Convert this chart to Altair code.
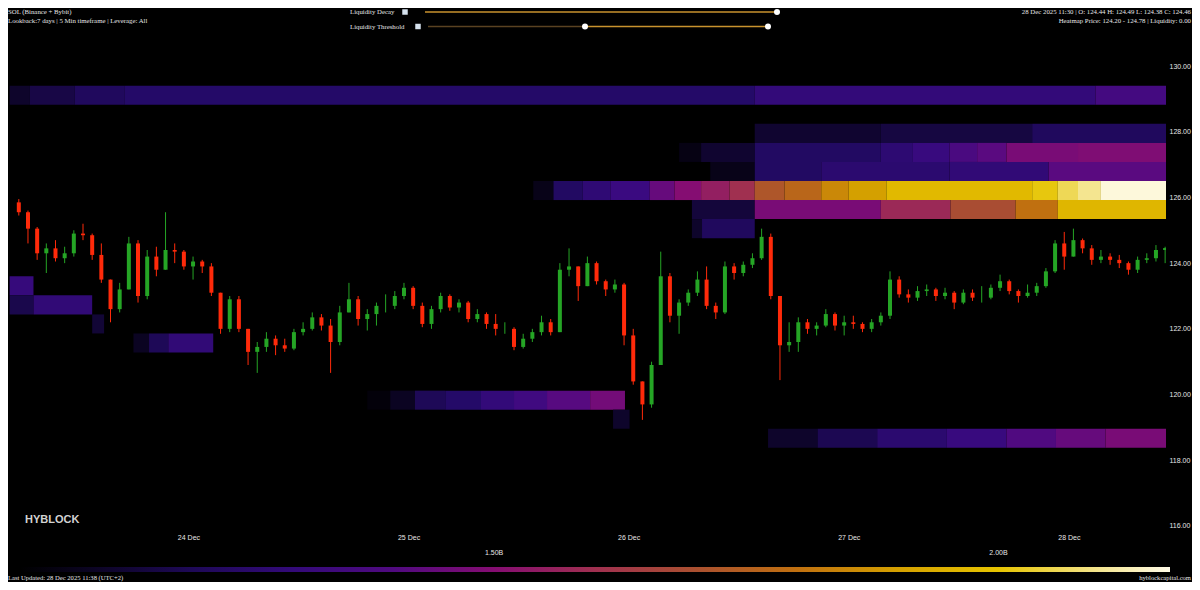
import altair as alt
import pandas as pd

# ---------------- data ----------------
# hourly candles, hours counted from 23 Dec 2025 00:00
candle_hours = list(range(5, 131))
first_open = 125.85
closes = [125.55, 125.05, 124.3, 124.45, 124.15, 124.3, 124.9, 124.85, 124.25, 123.5,
          122.6, 123.2, 124.6, 123.0, 124.2, 123.8, 124.4, 124.35, 123.9, 124.05,
          123.9, 123.1, 122.0, 122.9, 122.0, 121.3, 121.45, 121.7, 121.5, 121.4,
          121.9, 122.0, 122.35, 122.1, 121.6, 122.5, 122.9, 122.3, 122.45, 122.7,
          122.7, 123.0, 123.25, 122.7, 122.15, 122.6, 123.0, 122.65, 122.8, 122.3,
          122.45, 122.15, 122.0, 122.0, 121.45, 121.7, 121.9, 122.2, 121.9, 123.8,
          123.9, 123.3, 124.0, 123.45, 123.2, 123.35, 121.8, 120.4, 119.7, 120.9,
          123.6, 122.4, 122.8, 123.1, 123.5, 122.7, 122.5, 123.9, 123.7, 123.95,
          124.15, 124.8, 123.0, 121.5, 121.6, 122.2, 122.0, 122.1, 122.45, 122.1,
          122.2, 122.15, 122.0, 122.2, 122.4, 123.5, 123.05, 122.95, 123.15, 123.2,
          123.0, 123.1, 122.8, 123.1, 122.95, 122.95, 123.25, 123.45, 123.15, 123.0,
          123.1, 123.3, 123.75, 124.6, 124.2, 124.7, 124.45, 124.1, 124.2, 124.1,
          124.0, 123.8, 124.1, 124.15, 124.4, 124.46]
highs = [125.95, 125.6, 125.1, 124.6, 124.7, 124.5, 125.0, 125.2, 124.9, 124.6,
         123.5, 123.4, 124.8, 124.7, 124.4, 124.5, 125.55, 124.6, 124.4, 124.2,
         124.1, 124.0, 123.1, 123.0, 123.0, 122.0, 121.6, 121.9, 121.8, 121.7,
         122.0, 122.2, 122.5, 122.45, 122.3, 122.7, 123.4, 123.0, 122.6, 122.8,
         123.05, 123.15, 123.4, 123.3, 122.8, 122.7, 123.1, 123.05, 122.9, 122.85,
         122.6, 122.5, 122.45, 122.2, 122.05, 121.85, 122.0, 122.4, 122.3, 124.0,
         124.45, 123.9, 124.2, 124.05, 123.5, 123.5, 123.4, 122.0, 120.4, 121.0,
         124.35, 123.7, 122.9, 123.2, 123.75, 123.9, 122.8, 124.05, 124.0, 124.05,
         124.3, 125.05, 124.9, 123.0, 122.2, 122.35, 122.3, 122.2, 122.6, 122.5,
         122.4, 122.4, 122.2, 122.3, 122.5, 123.75, 123.6, 123.2, 123.3, 123.35,
         123.25, 123.25, 123.15, 123.2, 123.2, 123.3, 123.35, 123.65, 123.5, 123.2,
         123.35, 123.4, 123.85, 124.7, 124.95, 125.05, 124.75, 124.55, 124.4, 124.3,
         124.25, 124.05, 124.2, 124.3, 124.55, 124.5]
lows = [125.45, 124.6, 124.1, 123.7, 124.05, 124.0, 124.2, 124.7, 124.1, 123.4,
        122.2, 122.5, 123.2, 122.8, 122.9, 123.6, 123.8, 124.0, 123.8, 123.5,
        123.7, 123.0, 121.85, 121.9, 121.9, 120.9, 120.66, 121.3, 121.2, 121.3,
        121.35, 121.8, 121.95, 121.95, 120.66, 121.5, 122.5, 122.1, 121.95, 122.1,
        122.5, 122.6, 122.9, 122.6, 122.05, 122.0, 122.5, 122.55, 122.5, 122.2,
        122.2, 122.0, 121.8, 121.85, 121.35, 121.4, 121.6, 121.8, 121.8, 121.9,
        123.6, 122.85, 123.3, 123.35, 123.0, 123.1, 121.5, 120.3, 119.23, 119.6,
        120.9, 122.2, 121.85, 122.7, 123.0, 122.6, 122.3, 122.45, 123.5, 123.6,
        123.85, 124.1, 122.9, 120.44, 121.3, 121.3, 121.85, 121.8, 122.05, 121.95,
        121.8, 122.0, 121.9, 121.9, 122.1, 122.3, 122.95, 122.8, 122.85, 123.0,
        122.85, 122.9, 122.6, 122.75, 122.85, 122.8, 122.9, 123.15, 123.05, 122.8,
        122.95, 123.0, 123.25, 123.7, 123.8, 124.2, 124.3, 123.95, 124.0, 123.95,
        123.85, 123.65, 123.7, 124.0, 124.05, 124.0]

# liquidity heatmap cells (price bin low edge, start hour, end hour, liquidity in B)
bin_size = 0.58
cell_low = ([128.82] * 6 + [127.66] * 3 + [127.08] * 9 + [126.50] * 5 + [125.92] * 17 +
            [125.34] * 6 + [124.76] * 2 + [123.02] + [122.44] * 2 + [121.86] + [121.28] * 3 +
            [119.54] * 8 + [118.96] + [118.38] * 7)
cell_start = [4.5, 6.7, 11.6, 17.0, 85.75, 122.9,
              85.75, 99.5, 116.0,
              77.5, 79.9, 85.75, 99.5, 103.0, 107.0, 110.0, 113.2, 121.0,
              80.9, 85.75, 93.0, 107.0, 117.8,
              61.6, 63.8, 67.0, 70.0, 74.3, 77.0, 79.9, 83.0, 85.75, 89.0, 93.0, 96.0, 100.1, 116.0, 118.8, 121.0, 123.5,
              78.9, 85.75, 99.5, 107.1, 114.2, 118.8,
              78.9, 80.0,
              4.5,
              4.5, 7.1,
              13.5,
              18.0, 19.7, 21.8,
              43.5, 46.0, 48.7, 52.0, 55.9, 59.5, 63.1, 67.8,
              70.3,
              87.2, 92.6, 99.1, 106.7, 113.2, 118.6, 124.0]
cell_end = [6.7, 11.6, 17.0, 85.75, 122.9, 130.6,
            99.5, 116.0, 130.6,
            79.9, 85.75, 99.5, 103.0, 107.0, 110.0, 113.2, 121.0, 130.6,
            85.75, 93.0, 107.0, 117.8, 130.6,
            63.8, 67.0, 70.0, 74.3, 77.0, 79.9, 83.0, 85.75, 89.0, 93.0, 96.0, 100.1, 116.0, 118.8, 121.0, 123.5, 130.6,
            85.75, 99.5, 107.1, 114.2, 118.8, 130.6,
            80.0, 85.75,
            7.1,
            7.1, 13.5,
            14.8,
            19.7, 21.8, 26.7,
            46.0, 48.7, 52.0, 55.9, 59.5, 63.1, 67.8, 71.6,
            72.1,
            92.6, 99.1, 106.7, 113.2, 118.6, 124.0, 130.6]
cell_liq = [1.12, 1.17, 1.21, 1.23, 1.30, 1.36,
            1.13, 1.16, 1.21,
            1.07, 1.13, 1.22, 1.27, 1.32, 1.38, 1.43, 1.48, 1.49,
            1.08, 1.22, 1.26, 1.29, 1.43,
            1.08, 1.22, 1.28, 1.33, 1.45, 1.50, 1.55, 1.60, 1.72, 1.77, 1.85, 1.90, 1.97, 2.01, 2.06, 2.10, 2.16,
            1.15, 1.48, 1.58, 1.69, 1.80, 1.96,
            1.12, 1.21,
            1.31,
            1.18, 1.29,
            1.14,
            1.10, 1.20, 1.29,
            1.05, 1.10, 1.20, 1.23, 1.30, 1.35, 1.42, 1.47,
            1.12,
            1.12, 1.19, 1.26, 1.32, 1.40, 1.45, 1.48]

# colour scale of the liquidity bar (value in B -> colour)
liq_stops = [1.03, 1.13, 1.23, 1.33, 1.43, 1.50, 1.60, 1.70, 1.80, 1.90, 2.00, 2.10, 2.17]
liq_colors = ["#000000", "#100530", "#240a68", "#3a0a80", "#5a0a80", "#850d72", "#a03050",
              "#aa5030", "#c07010", "#d4a000", "#e6c400", "#f4e590", "#fffbe8"]
bar_ticks = [1.5, 2.0]
bar_tick_labels = ["1.50B", "2.00B"]

price_ticks = [116, 118, 120, 122, 124, 126, 128, 130]
day_ticks = [24, 25, 26, 27, 28]

# ---------------- frames ----------------
BASE = pd.Timestamp("2025-12-23 00:00")


def t(h):
    return BASE + pd.to_timedelta(h, unit="h")


opens = [first_open] + closes[:-1]
candles = pd.DataFrame({
    "time": [t(h + 0.5) for h in candle_hours],
    "open": opens,
    "close": closes,
    "high": [max(h, o, c) for h, o, c in zip(highs, opens, closes)],
    "low": [min(l, o, c) for l, o, c in zip(lows, opens, closes)],
})

heat = pd.DataFrame({
    "start": [t(s) for s in cell_start],
    "end": [t(e) for e in cell_end],
    "low": cell_low,
    "high": [p + bin_size for p in cell_low],
    "liq": cell_liq,
})

bar_ticks_df = pd.DataFrame({"v": bar_ticks, "label": bar_tick_labels})

W, H = 1158, 486
LEG_X, LEG_LEN = 12, 1150
SANS = "Liberation Sans"
SERIF = "Liberation Serif"
TXT = "#e6e6e6"

xscale = alt.Scale(domain=[alt.DateTime(year=2025, month=12, date=23, hours=4, minutes=52),
                           alt.DateTime(year=2025, month=12, date=28, hours=10, minutes=3)])
yscale = alt.Scale(domain=[115.878, 130.67], zero=False, nice=False)

xaxis = alt.Axis(values=[alt.DateTime(year=2025, month=12, date=d) for d in day_ticks],
                 format="%d %b", grid=False, ticks=False, domain=False, title=None,
                 labelPadding=3, labelColor=TXT, labelFontSize=7, labelFont=SANS)
yaxis = alt.Axis(orient="right", values=price_ticks, format=".2f", grid=False, ticks=False,
                 domain=False, title=None, labelPadding=3, labelColor=TXT,
                 labelFontSize=7, labelFont=SANS)

heat_layer = alt.Chart(heat).mark_rect(clip=True).encode(
    x=alt.X("start:T", scale=xscale, axis=xaxis),
    x2="end:T",
    y=alt.Y("low:Q", scale=yscale, axis=yaxis),
    y2="high:Q",
    color=alt.Color("liq:Q",
                    scale=alt.Scale(type="linear", domain=liq_stops, range=liq_colors, interpolate="rgb"),
                    legend=alt.Legend(orient="none", legendX=LEG_X, legendY=523, direction="horizontal",
                                      gradientLength=LEG_LEN, gradientThickness=5, gradientStrokeWidth=0,
                                      labelOpacity=0, labelExpr="''", title=None, padding=0)),
)

up, down = "#25a525", "#ff2a0a"
candle_color = alt.condition("datum.close >= datum.open", alt.value(up), alt.value(down))

wicks = alt.Chart(candles).mark_rule(strokeWidth=1, clip=True).encode(
    x=alt.X("time:T", scale=xscale), y=alt.Y("low:Q", scale=yscale), y2="high:Q", color=candle_color)
bodies = alt.Chart(candles).mark_bar(size=4, clip=True).encode(
    x=alt.X("time:T", scale=xscale), y=alt.Y("open:Q", scale=yscale), y2="close:Q", color=candle_color)

one = pd.DataFrame({"k": [0]})


def label(txt, x, y, align="left", size=6.8, font=SERIF, color=TXT, weight="normal"):
    return alt.Chart(one).mark_text(align=align, baseline="middle", fontSize=size, font=font,
                                    color=color, fontWeight=weight).encode(
        x=alt.value(x), y=alt.value(y), text=alt.value(txt))


def line(x1, x2, y, color, width=1.3):
    return alt.Chart(one).mark_rule(color=color, strokeWidth=width).encode(
        x=alt.value(x1), x2=alt.value(x2), y=alt.value(y))


def knob(x, y):
    return alt.Chart(one).mark_point(filled=True, color="#ffffff", size=36, opacity=1).encode(
        x=alt.value(x), y=alt.value(y))


def icon(x, y):
    return alt.Chart(one).mark_square(color="#d6e2ee", size=30, opacity=1).encode(
        x=alt.value(x), y=alt.value(y))


L1, L2, L3 = -32, -23, -17.5
annotations = [
    label("SOL (Binance + Bybit)", 0, L1),
    label("Lookback:7 days | 5 Min timeframe | Leverage: All", 0, L2),
    label("Liquidity Decay", 342, L1),
    icon(397, L1),
    line(417, 769, L1, "#c8922e"),
    knob(769, L1),
    label("Liquidity Threshold", 342, L3),
    icon(410, L3),
    line(420, 577, L3, "#5a4221"),
    line(577, 760, L3, "#c8922e"),
    knob(577, L3),
    knob(760, L3),
    label("28 Dec 2025 11:30 | O: 124.44 H: 124.49 L: 124.38 C: 124.46", 1183, L1, align="right"),
    label("Heatmap Price: 124.20 - 124.78 | Liquidity: 0.00", 1183, L2, align="right"),
    label("HYBLOCK", 17, 476, size=11, font=SANS, color="#d2d2d2", weight="bold"),
    label("Last Updated: 28 Dec 2025 11:38 (UTC+2)", 0, 534, size=6.6),
    label("hyblockcapital.com", 1183, 534, align="right", size=6.6),
]

main = alt.layer(heat_layer, wicks, bodies, *annotations)

# colour-bar tick labels on their own x scale that matches the gradient's extent
px_per_unit = LEG_LEN / (liq_stops[-1] - liq_stops[0])
bar_scale = alt.Scale(domain=[liq_stops[0] - LEG_X / px_per_unit,
                              liq_stops[0] + (W - LEG_X) / px_per_unit], zero=False, nice=False)
bar_labels = alt.Chart(bar_ticks_df).mark_text(
    baseline="middle", align="center", fontSize=7, font=SANS, color=TXT).encode(
    x=alt.X("v:Q", scale=bar_scale, axis=None), y=alt.value(509), text="label:N")

chart = alt.layer(main, bar_labels).resolve_scale(x="independent").properties(
    width=W, height=H, background="#000000",
    padding={"left": 0, "top": 36, "right": 26, "bottom": 52},
    autosize=alt.AutoSizeParams(type="none"),
).configure_view(strokeWidth=0)

chart.save("out.html", embed_options={"renderer": "svg", "actions": False})
